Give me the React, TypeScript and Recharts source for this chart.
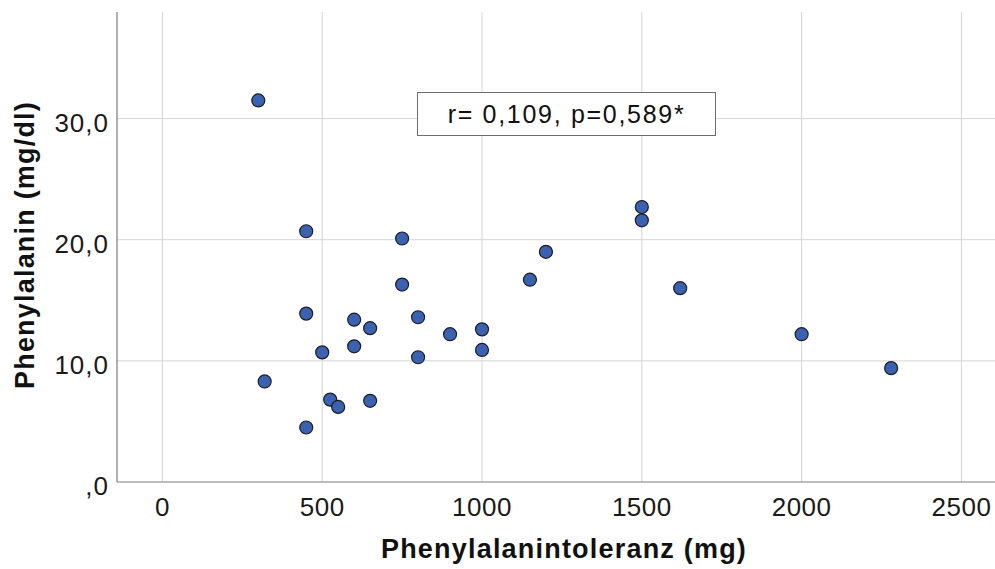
import React from 'react';
import { ScatterChart, Scatter, XAxis, YAxis, ReferenceLine } from 'recharts';

const xTicks = [0, 500, 1000, 1500, 2000, 2500];
const yTicks = [0, 10, 20, 30];

// Phenylalanintoleranz (mg) / Phenylalanin (mg/dl)
const tolerance = [300, 450, 750, 750, 450, 600, 650, 800, 900, 1000, 600, 500, 800, 1000, 320, 525, 550, 650, 450, 1500, 1500, 1200, 1150, 1620, 2000, 2280];
const phenylalanine = [31.5, 20.7, 20.1, 16.3, 13.9, 13.4, 12.7, 13.6, 12.2, 12.6, 11.2, 10.7, 10.3, 10.9, 8.3, 6.8, 6.2, 6.7, 4.5, 22.7, 21.6, 19.0, 16.7, 16.0, 12.2, 9.4];

const points = tolerance.map((x, i) => ({ x, y: phenylalanine[i] }));

const font = "'Liberation Sans', Arial, sans-serif";
const gridColor = '#d4d4d4';

const fmtY = (v: number) => (v === 0 ? ',0' : v.toFixed(1).replace('.', ','));

function XTick({ x, y, payload }: any) {
  return (
    <text x={x} y={y + 34} textAnchor="middle" fontFamily={font} fontSize={26} letterSpacing={0.5} fill="#1a1a1a">
      {payload.value}
    </text>
  );
}

function YTick({ x, y, payload }: any) {
  return (
    <text x={x} y={y + 13} textAnchor="end" fontFamily={font} fontSize={26} letterSpacing={1} fill="#1a1a1a">
      {fmtY(payload.value)}
    </text>
  );
}

function Dot({ cx, cy }: any) {
  return <circle cx={cx} cy={cy} r={6.5} fill="#3b62b0" stroke="#1c1c24" strokeWidth={1.2} />;
}

export default function App() {
  return (
    <div style={{ position: 'absolute', left: 0, top: 0, width: 995, height: 569, background: '#fff' }}>
      <ScatterChart width={995} height={569} margin={{ top: 12, right: 0, bottom: 0, left: 0 }}>
        <XAxis
          type="number"
          dataKey="x"
          domain={[-142, 2605]}
          ticks={xTicks}
          allowDataOverflow
          height={87}
          tickLine={false}
          tickSize={0}
          tickMargin={0}
          axisLine={{ stroke: '#7d7d7d', strokeWidth: 1.2 }}
          tick={<XTick />}
          label={{
            content: () => (
              <text x={564} y={558} textAnchor="middle" fontFamily={font} fontSize={27} fontWeight="bold" letterSpacing={1.2} fill="#111">
                Phenylalanintoleranz (mg)
              </text>
            ),
          }}
        />
        <YAxis
          type="number"
          dataKey="y"
          domain={[0, 38.8]}
          ticks={yTicks}
          allowDataOverflow
          width={117}
          tickLine={false}
          tickSize={0}
          tickMargin={8}
          axisLine={{ stroke: '#7d7d7d', strokeWidth: 1.2 }}
          tick={<YTick />}
          label={{
            content: () => (
              <text x={34} y={245} transform="rotate(-90 34 245)" textAnchor="middle" fontFamily={font} fontSize={27} fontWeight="bold" letterSpacing={1.2} fill="#111">
                Phenylalanin (mg/dl)
              </text>
            ),
          }}
        />
        {xTicks.map((t) => (
          <ReferenceLine key={`vx${t}`} x={t} stroke={gridColor} strokeWidth={1} />
        ))}
        {yTicks.filter((t) => t > 0).map((t) => (
          <ReferenceLine key={`hy${t}`} y={t} stroke={gridColor} strokeWidth={1} />
        ))}
        <Scatter data={points} shape={<Dot />} isAnimationActive={false} />
      </ScatterChart>
      <div
        style={{
          position: 'absolute',
          left: 417,
          top: 92,
          width: 297,
          height: 42,
          border: '1px solid #6e6e6e',
          background: '#fff',
          boxSizing: 'content-box',
          display: 'flex',
          alignItems: 'center',
          justifyContent: 'center',
          fontFamily: font,
          fontSize: 25,
          letterSpacing: 1.7,
          color: '#111',
        }}
      >
        r= 0,109, p=0,589*
      </div>
    </div>
  );
}
